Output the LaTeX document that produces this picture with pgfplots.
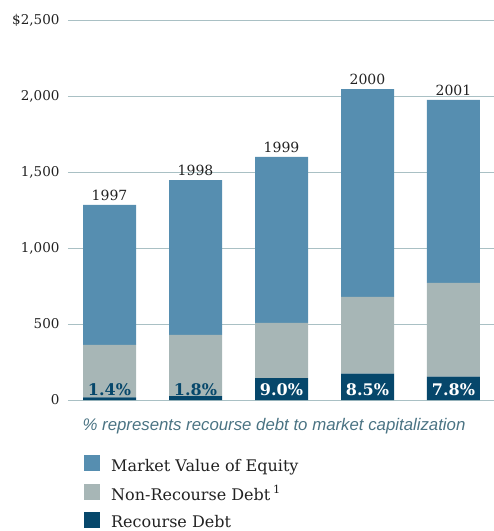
\documentclass[border=0pt]{standalone}
\usepackage{pgfplots}
\pgfplotsset{compat=1.18}
\usepackage{fontspec}
\setmainfont{DejaVu Serif}
\newfontfamily\capfont{Liberation Sans}
\definecolor{equity}{HTML}{568EB0}
\definecolor{nonrec}{HTML}{A7B6B6}
\definecolor{recourse}{HTML}{06476B}
\definecolor{gridc}{HTML}{A9C0C4}
\definecolor{textc}{HTML}{222222}
\definecolor{capc}{HTML}{4A7383}
\pgfplotstableread{
x rec nonrec eq year
0 18 344 921 1997
1 26 402 1019 1998
2 144 363 1092 1999
3 174 504 1368 2000
4 154 616 1204 2001
}\data
\begin{document}
\begin{tikzpicture}[x=1pt,y=1pt]
\useasboundingbox (-68,-131) rectangle (426,400);
\begin{axis}[
  at={(0,0)}, anchor=south west,
  scale only axis, width=426pt, height=380pt,
  xmin=-0.483, xmax=4.471, ymin=0, ymax=2500,
  ybar stacked, bar width=53pt,
  axis line style={draw=none},
  major tick length=0pt,
  xtick=\empty,
  ytick={0,500,1000,1500,2000,2500},
  yticklabels={0,500,{1,000},{1,500},{2,000},{\$2,500}},
  yticklabel style={font=\fontsize{13.5}{15}\selectfont, text=textc, anchor=east, xshift=-5pt},
  ymajorgrids, grid style={draw=gridc, line width=1pt},
  clip=false,
]
\addplot[fill=recourse, draw=none] table[x=x, y=rec] {\data};
\addplot[fill=nonrec, draw=none] table[x=x, y=nonrec] {\data};
\addplot[fill=equity, draw=none] table[x=x, y=eq] {\data};
\node[anchor=south, font=\fontsize{14}{16}\selectfont, text=textc, yshift=1pt] at (axis cs:0,1283) {1997};
\node[anchor=south, font=\fontsize{14}{16}\selectfont, text=textc, yshift=1pt] at (axis cs:1,1447) {1998};
\node[anchor=south, font=\fontsize{14}{16}\selectfont, text=textc, yshift=1pt] at (axis cs:2,1599) {1999};
\node[anchor=south, font=\fontsize{14}{16}\selectfont, text=textc, yshift=1pt] at (axis cs:3,2046) {2000};
\node[anchor=south, font=\fontsize{14}{16}\selectfont, text=textc, yshift=1pt] at (axis cs:4,1974) {2001};
\end{axis}
% percentage labels drawn on top of the bars (bar centres at (i+0.483)*85.99)
\node[anchor=base, font=\bfseries\fontsize{16}{18}\selectfont, text=recourse] at (41.5,5) {1.4\%};
\node[anchor=base, font=\bfseries\fontsize{16}{18}\selectfont, text=recourse] at (127.5,5) {1.8\%};
\node[anchor=base, font=\bfseries\fontsize{16}{18}\selectfont, text=white] at (213.5,5) {9.0\%};
\node[anchor=base, font=\bfseries\fontsize{16}{18}\selectfont, text=white] at (299.5,5) {8.5\%};
\node[anchor=base, font=\bfseries\fontsize{16}{18}\selectfont, text=white] at (385.5,5) {7.8\%};
\node[anchor=base, font=\capfont\itshape\fontsize{16.8}{18}\selectfont, text=capc] at (206,-30) {\% represents recourse debt to market capitalization};
\fill[equity] (16,-71) rectangle (32,-55);
\fill[nonrec] (16,-100) rectangle (32,-84);
\fill[recourse] (16,-128) rectangle (32,-112);
\node[anchor=base west, inner sep=0pt, font=\fontsize{16}{18}\selectfont, text=textc] at (43,-71) {Market Value of Equity};
\node[anchor=base west, inner sep=0pt, font=\fontsize{16}{18}\selectfont, text=textc] at (43,-100) {Non-Recourse Debt\,\textsuperscript{1}};
\node[anchor=base west, inner sep=0pt, font=\fontsize{16}{18}\selectfont, text=textc] at (43,-127) {Recourse Debt};
\end{tikzpicture}
\end{document}
